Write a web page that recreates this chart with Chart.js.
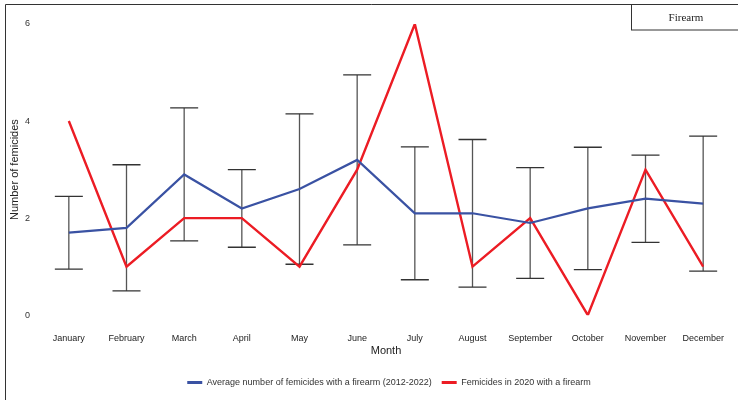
<!DOCTYPE html>
<html>
<head>
<meta charset="utf-8">
<script src="https://cdn.jsdelivr.net/npm/chart.js@4.4.1/dist/chart.umd.min.js"></script>
<style>
  html, body { margin: 0; padding: 0; background: #ffffff; }
  #wrap { width: 738px; height: 400px; position: relative; }
</style>
</head>
<body>
<div id="wrap"><canvas id="chart" width="738" height="400"></canvas></div>
<script>
// Monthly firearm femicides: 2012-2022 monthly average (with ± SD bars) vs 2020 counts
const months = ['January', 'February', 'March', 'April', 'May', 'June',
  'July', 'August', 'September', 'October', 'November', 'December'];
const avgFirearm = [1.7, 1.8, 2.9, 2.2, 2.6, 3.2, 2.1, 2.1, 1.9, 2.2, 2.4, 2.3];
const sdFirearm = [0.75, 1.3, 1.37, 0.8, 1.55, 1.75, 1.37, 1.52, 1.14, 1.26, 0.9, 1.39];
const firearm2020 = [4, 1, 2, 2, 1, 3, 6, 1, 2, 0, 3, 1];
const yTicks = [0, 2, 4, 6];

const BLUE = '#3a52a3';
const RED = '#ec1c24';
const FONT = "'Liberation Sans', Arial, sans-serif";

// Standard-deviation whiskers around the average series
const errorBars = {
  id: 'errorBars',
  beforeDatasetsDraw(chart) {
    const { ctx, scales: { x, y } } = chart;
    ctx.save();
    ctx.lineWidth = 1.3;
    avgFirearm.forEach((m, i) => {
      const px = x.getPixelForValue(i);
      const top = y.getPixelForValue(m + sdFirearm[i]);
      const bot = y.getPixelForValue(m - sdFirearm[i]);
      ctx.strokeStyle = '#555555';
      ctx.beginPath();
      ctx.moveTo(px, top);
      ctx.lineTo(px, bot);
      ctx.stroke();
      ctx.strokeStyle = '#333333';
      ctx.beginPath();
      ctx.moveTo(px - 14, top);
      ctx.lineTo(px + 14, top);
      ctx.moveTo(px - 14, bot);
      ctx.lineTo(px + 14, bot);
      ctx.stroke();
    });
    ctx.restore();
  }
};

// Centre the legend row under the plot rather than the whole canvas
const legendShift = {
  id: 'legendShift',
  afterLayout(chart) {
    if (chart.legend) chart.legend.left = 46;
  }
};

// Panel frame and the "Firearm" tag in the corner
const panelFrame = {
  id: 'panelFrame',
  afterDraw(chart) {
    const { ctx } = chart;
    ctx.save();
    ctx.strokeStyle = '#333333';
    ctx.lineWidth = 1;
    ctx.beginPath();
    ctx.moveTo(5.5, 400);
    ctx.lineTo(5.5, 4.5);
    ctx.lineTo(738, 4.5);
    ctx.stroke();
    ctx.strokeRect(631.5, 4.5, 120, 25.5);
    ctx.fillStyle = '#222222';
    ctx.font = "11px 'Liberation Serif', 'Times New Roman', serif";
    ctx.textAlign = 'center';
    ctx.textBaseline = 'middle';
    ctx.fillText('Firearm', 686, 18);
    ctx.restore();
  }
};

new Chart(document.getElementById('chart'), {
  type: 'line',
  data: {
    labels: months,
    datasets: [
      {
        label: 'Average number of femicides with a firearm (2012-2022)',
        data: avgFirearm,
        borderColor: BLUE,
        backgroundColor: BLUE,
        borderWidth: 2.2,
        pointRadius: 0,
        tension: 0
      },
      {
        label: 'Femicides in 2020 with a firearm',
        data: firearm2020,
        borderColor: RED,
        backgroundColor: RED,
        borderWidth: 2.4,
        pointRadius: 0,
        tension: 0
      }
    ]
  },
  options: {
    responsive: false,
    animation: false,
    layout: { padding: { left: 0, right: 6, top: 24, bottom: 3 } },
    plugins: {
      tooltip: { enabled: false },
      legend: {
        position: 'bottom',
        labels: {
          font: { family: FONT, size: 9 },
          color: '#333333',
          boxWidth: 15,
          boxHeight: 3,
          padding: 10,
          generateLabels(chart) {
            return Chart.defaults.plugins.legend.labels.generateLabels(chart)
              .map(l => Object.assign(l, { lineWidth: 0 }));
          }
        }
      }
    },
    scales: {
      x: {
        offset: true,
        grid: { display: false, drawTicks: false },
        border: { display: false },
        ticks: {
          font: { family: FONT, size: 9 },
          color: '#222222',
          padding: 18,
          maxRotation: 0,
          autoSkip: false
        },
        title: {
          display: true,
          text: 'Month',
          font: { family: FONT, size: 11 },
          color: '#222222',
          padding: { top: 0, bottom: 10.2 }
        },
        afterFit(scale) {
          scale.height = 52.8;
          scale.paddingLeft = 0;
          scale.paddingRight = 0;
        }
      },
      y: {
        min: 0,
        max: 6,
        grid: { display: false, drawTicks: false },
        border: { display: false },
        afterBuildTicks(scale) { scale.ticks = yTicks.map(v => ({ value: v })); },
        ticks: {
          font: { family: FONT, size: 9 },
          color: '#333333',
          padding: 10
        },
        title: {
          display: true,
          text: 'Number of femicides',
          font: { family: FONT, size: 11 },
          color: '#222222',
          padding: { top: 8, bottom: 0 }
        },
        afterFit(scale) { scale.width = 40; }
      }
    }
  },
  plugins: [errorBars, legendShift, panelFrame]
});
</script>
</body>
</html>
